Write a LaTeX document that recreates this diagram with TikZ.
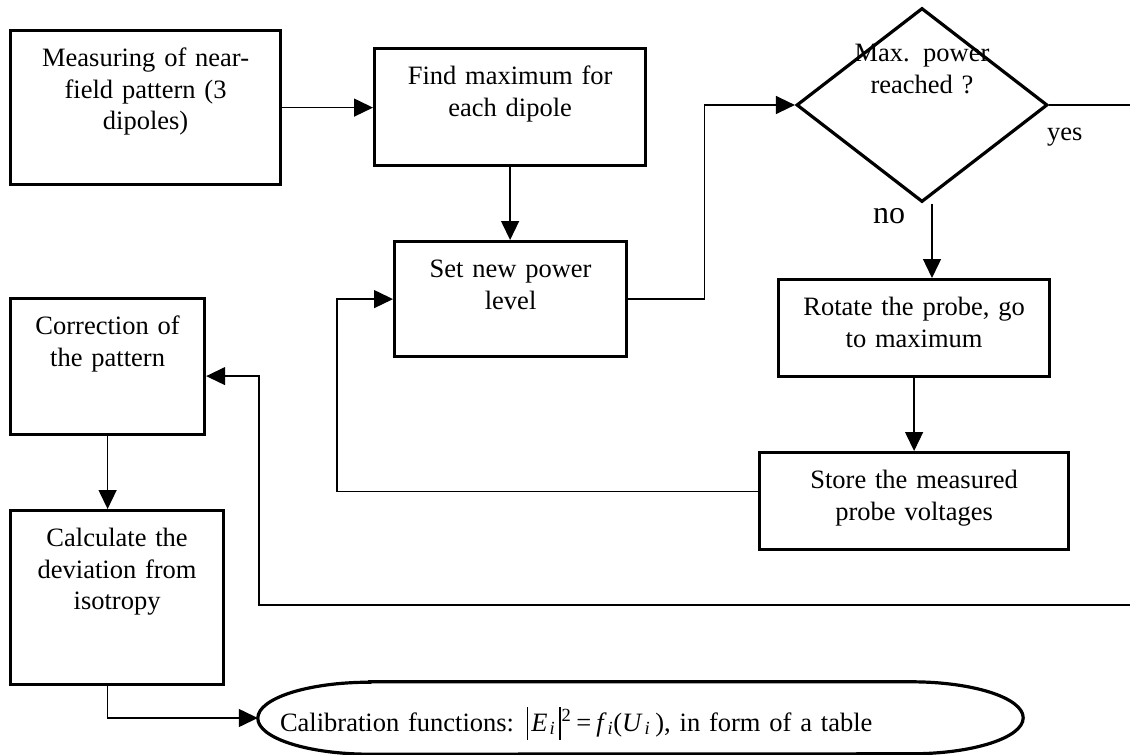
\documentclass[tikz,border=0pt]{standalone}
\usepackage{fontspec}
\setmainfont{Liberation Serif}
\usetikzlibrary{shapes.geometric, arrows.meta, positioning, calc}

% Betragsstrich fuer die Formel
\newcommand{\absbar}{\rule[-9pt]{1.2pt}{33pt}}

\begin{document}
\begin{tikzpicture}[
  x=1pt, y=-1pt,
  % === GRUNDSTILE ===
  % Prozess-Box, Text oben im Kasten
  flowbox/.style={
    draw,
    line width=3.2pt,
    inner xsep=6pt,
    inner ysep=0pt,
    anchor=north west,
    align=center,
    text height=36pt,
    font=\fontsize{26.5pt}{31.5pt}\selectfont
  },
  % Entscheidung (Raute)
  decision/.style={
    diamond,
    draw,
    line width=3.2pt,
    inner sep=0pt,
    minimum width=251pt,
    minimum height=194pt
  },
  % Beschriftungen
  lbl/.style={
    font=\fontsize{26.5pt}{31.5pt}\selectfont,
    inner sep=0pt
  },
  % Pfeile
  flowarrow/.style={
    draw,
    line width=1.4pt,
    -{Triangle[length=19pt, width=18pt]}
  },
  flowline/.style={
    draw,
    line width=1.4pt
  }
]

% =============================================================================
% HINTERGRUND
% =============================================================================
\fill[white] (0,0) rectangle (1130,755);
\useasboundingbox (0,0) rectangle (1130,755);

% =============================================================================
% KAESTEN
% =============================================================================
\node[flowbox, minimum width=270pt, text width=258pt, text depth=118pt] (meas) at (9,29)
  {Measuring of near-\\field pattern (3\\dipoles)};
\node[flowbox, minimum width=271pt, text width=259pt, text depth=81pt] (findmax) at (373,47)
  {Find maximum for\\each dipole};
\node[flowbox, minimum width=232pt, text width=220pt, text depth=79pt] (setpower) at (393,240)
  {Set new power\\level};
\node[flowbox, minimum width=271pt, text width=259pt, text depth=61pt] (rotate) at (777,278)
  {Rotate the probe, go\\to maximum};
\node[flowbox, minimum width=309pt, text width=297pt, text depth=61pt] (store) at (758,451)
  {Store the measured\\probe voltages};
\node[flowbox, minimum width=194pt, text width=182pt, text depth=100pt] (correct) at (9,297)
  {Correction of\\the pattern};
\node[flowbox, minimum width=213pt, text width=201pt, text depth=138pt] (calcdev) at (9,509)
  {Calculate the\\deviation from\\isotropy};

% --- Raute ---
\node[decision] (maxpower) at (922,105) {};
\node[lbl, align=center, text width=200pt, anchor=north, text height=20pt] (maxpowertxt) at (922,41.5)
  {Max. power\\reached ?};
\node[lbl, anchor=base west] (yeslbl) at (1047,140) {yes};
\node[lbl, anchor=base west, font=\fontsize{32pt}{38pt}\selectfont] (nolbl) at (873,223) {no};

% --- Ergebnis ---
\node[lbl, minimum width=765pt, minimum height=72pt, inner xsep=22pt, text width=721pt, align=left,
      text height=28pt, text depth=2pt] (calib) at (640.5,718)
  {Calibration functions: \absbar\kern3pt\textit{E}\kern2pt\textsubscript{\textit{i}}\kern4pt\absbar\kern1pt\textsuperscript{2}\kern5pt
   =\kern5pt\textit{f}\kern1pt\textsubscript{\textit{i}}(\textit{U}\kern2pt\textsubscript{\textit{i}}\kern5pt), in form of a table};
\draw[line width=3.2pt] ([xshift=112pt]calib.north west) -- ([xshift=-112pt]calib.north east)
  arc[start angle=90, end angle=-90, x radius=112pt, y radius=36pt]
  -- ([xshift=112pt]calib.south west)
  arc[start angle=270, end angle=90, x radius=112pt, y radius=36pt] -- cycle;

% =============================================================================
% VERBINDUNGEN
% =============================================================================
\coordinate (loopL) at (337,400);
\coordinate (edgeR) at (1130,605);
\coordinate (retL) at (259,605);

\draw[flowarrow] (meas.east) -- (meas.east -| findmax.west);
\draw[flowarrow] (findmax.south) -- (findmax.south |- setpower.north);
\draw[flowarrow] (setpower.east) -- ++(76,0) |- (maxpower.west);
\draw[flowarrow] ([xshift=10pt]maxpower.south) -- ([xshift=10pt]maxpower.south |- rotate.north);
\draw[flowarrow] (rotate.south) -- (rotate.south |- store.north);
\draw[flowarrow] ([yshift=9.5pt]store.west) -| (loopL) |- (setpower.west);
\draw[flowline] (maxpower.east) -- (maxpower.east -| edgeR);
\draw[flowarrow] (edgeR) -- (retL) |- ([yshift=-9.5pt]correct.east);
\draw[flowarrow] (correct.south) -- (correct.south |- calcdev.north);
\draw[flowarrow] ([xshift=-9.5pt]calcdev.south) |- (calib.west);

\end{tikzpicture}
\end{document}
